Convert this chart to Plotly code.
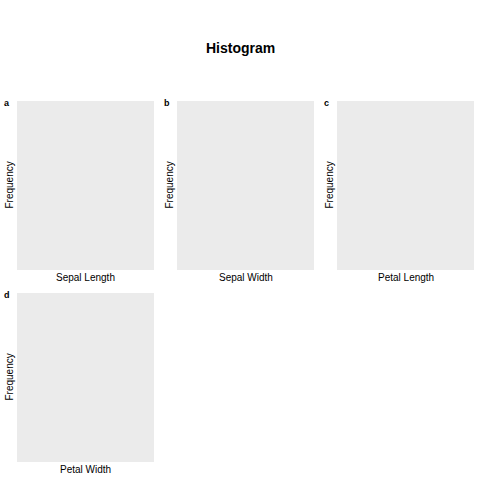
import plotly.graph_objects as go

title_text = "Histogram"
panel_tags = ["a", "b", "c", "d"]
x_labels = ["Sepal Length", "Sepal Width", "Petal Length", "Petal Width"]
y_label = "Frequency"
# histogram values (the reference panels show no bars)
values = {"Sepal Length": [], "Sepal Width": [], "Petal Length": [], "Petal Width": []}

W = H = 480
# panel pixel boxes (left, right, top, bottom)
boxes = [(17, 154, 101, 270), (177, 314, 101, 270), (337, 474, 101, 270), (17, 154, 293, 462)]

fig = go.Figure()
font = dict(family="Liberation Sans, Arial, sans-serif", color="#000000")
layout = dict(
    width=W, height=H, margin=dict(l=0, r=0, t=0, b=0),
    paper_bgcolor="white", plot_bgcolor="#EBEBEB", showlegend=False,
    font=dict(**font, size=10),
)
annotations = []
for i, (tag, lab, (l, r, t, b)) in enumerate(zip(panel_tags, x_labels, boxes)):
    n = "" if i == 0 else str(i + 1)
    fig.add_trace(go.Histogram(x=values[lab], xaxis="x" + n, yaxis="y" + n, marker_color="#595959"))
    layout["xaxis" + n] = dict(domain=[l / W, r / W], anchor="y" + n, showticklabels=False, ticks="",
                               showgrid=False, zeroline=False, showline=False, range=[0, 1], fixedrange=True)
    layout["yaxis" + n] = dict(domain=[1 - b / H, 1 - t / H], anchor="x" + n, showticklabels=False, ticks="",
                               showgrid=False, zeroline=False, showline=False, range=[0, 1], fixedrange=True)
    annotations.append(dict(text=lab, x=(l + r) / 2 / W, y=1 - (b + 7) / H, xref="paper", yref="paper",
                            showarrow=False, font=dict(**font, size=10), xanchor="center", yanchor="middle"))
    annotations.append(dict(text=y_label, x=(l - 8) / W, y=1 - (t + b) / 2 / H, xref="paper", yref="paper",
                            showarrow=False, textangle=-90, font=dict(**font, size=10), xanchor="center", yanchor="middle"))
    annotations.append(dict(text="<b>" + tag + "</b>", x=(l - 15) / W, y=1 - (t + 2) / H, xref="paper", yref="paper",
                            showarrow=False, font=dict(**font, size=9), xanchor="left", yanchor="middle"))
annotations.append(dict(text="<b>" + title_text + "</b>", x=0.5, y=1 - 48 / H, xref="paper", yref="paper",
                        showarrow=False, font=dict(**font, size=14), xanchor="center", yanchor="middle"))
layout["annotations"] = annotations
fig.update_layout(**layout)
fig.write_html("out.html")
